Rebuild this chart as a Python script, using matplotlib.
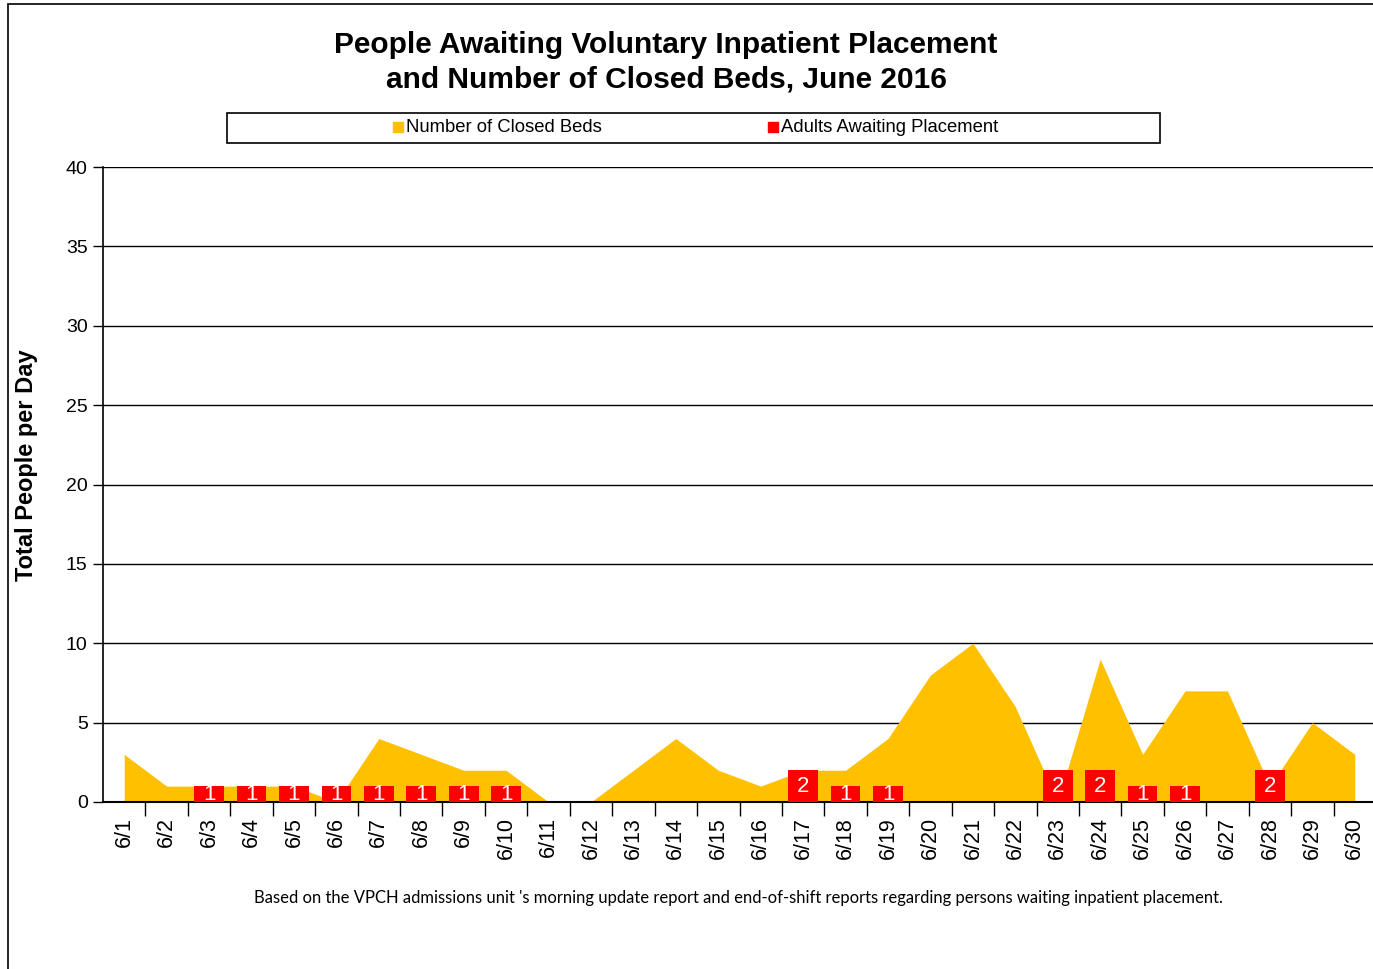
import matplotlib
matplotlib.use("Agg")
from matplotlib import pyplot as plt
from matplotlib.patches import Rectangle
import numpy as np

days = [f"6/{d}" for d in range(1, 31)]
closed_beds = [3, 1, 1, 1, 1, 0, 4, 3, 2, 2, 0, 0, 2, 4, 2, 1, 2, 2, 4, 8,
               10, 6, 0, 9, 3, 7, 7, 1, 5, 3]
adults_waiting = [0, 0, 1, 1, 1, 1, 1, 1, 1, 1, 0, 0, 0, 0, 0, 0, 2, 1, 1, 0,
                  0, 0, 2, 2, 1, 1, 0, 2, 0, 0]

YELLOW = "#FFC000"
RED = "#FF0000"
FONT = "Liberation Sans"

W, H = 1373, 969
fig = plt.figure(figsize=(W / 100, H / 100), dpi=100)
plt.rcParams["font.family"] = FONT

# outer chart border
fig.patches.append(Rectangle((8 / W, -0.01), 1.1, 1 - 4 / H + 0.01, transform=fig.transFigure,
                             fill=False, edgecolor="black", linewidth=1.2))

ax = fig.add_axes([103 / W, 1 - 802 / H, (1376 - 103) / W, (802 - 167) / H])
x = np.arange(len(days))

ax.fill_between(x, closed_beds, 0, color=YELLOW, linewidth=0, zorder=2)
bars = ax.bar(x, adults_waiting, width=0.7, color=RED, zorder=3)
for xi, v in zip(x, adults_waiting):
    if v > 0:
        ax.text(xi, v / 2, str(v), ha="center", va="center", color="white",
                fontsize=16, zorder=4, clip_on=True)

ax.set_xlim(-0.5, len(days) - 0.5)
ax.set_ylim(0, 40)
ax.set_yticks(range(0, 41, 5))
ax.tick_params(axis="y", labelsize=14, length=7, width=1, pad=4)
ax.yaxis.grid(True, color="black", linewidth=1)
ax.set_axisbelow(True)

ax.set_xticks(x)
ax.set_xticklabels(days, rotation=90, fontsize=15.5)
ax.tick_params(axis="x", which="major", length=0, pad=11)
ax.set_xticks(np.arange(0.5, len(days) - 0.5, 1), minor=True)
ax.tick_params(axis="x", which="minor", length=10, width=1)

for side in ["top", "right"]:
    ax.spines[side].set_visible(False)
ax.spines["left"].set_linewidth(1.2)
ax.spines["bottom"].set_linewidth(1.5)

ax.set_ylabel("Total People per Day", fontsize=17, fontweight="bold")
ax.yaxis.set_label_coords((38 - 103) / (1376 - 103), (802 - 465) / (802 - 167))

fig.text(666 / W, 1 - 45 / H, "People Awaiting Voluntary Inpatient Placement",
         ha="center", va="center", fontsize=21.5, fontweight="bold")
fig.text(666 / W, 1 - 79 / H, "and Number of Closed Beds, June 2016",
         ha="center", va="center", fontsize=21.5, fontweight="bold")

# legend box
fig.patches.append(Rectangle((227 / W, 1 - 143 / H), (1160 - 227) / W, 30 / H,
                             transform=fig.transFigure, fill=False,
                             edgecolor="black", linewidth=1.2))
for lx, color, label in [(393, YELLOW, "Number of Closed Beds"),
                         (768, RED, "Adults Awaiting Placement")]:
    fig.patches.append(Rectangle((lx / W, 1 - 132 / H), 10 / W, 10 / H,
                                 transform=fig.transFigure, color=color))
    fig.text((lx + 13) / W, 1 - 127.5 / H, label, ha="left", va="center", fontsize=13.3)

fig.text(738 / W, 1 - 898 / H,
         "Based on the VPCH admissions unit 's morning update report and end-of-shift "
         "reports regarding persons waiting inpatient placement.",
         ha="center", va="center", fontsize=12, family="Lato")

fig.savefig("out.png", dpi=100)
